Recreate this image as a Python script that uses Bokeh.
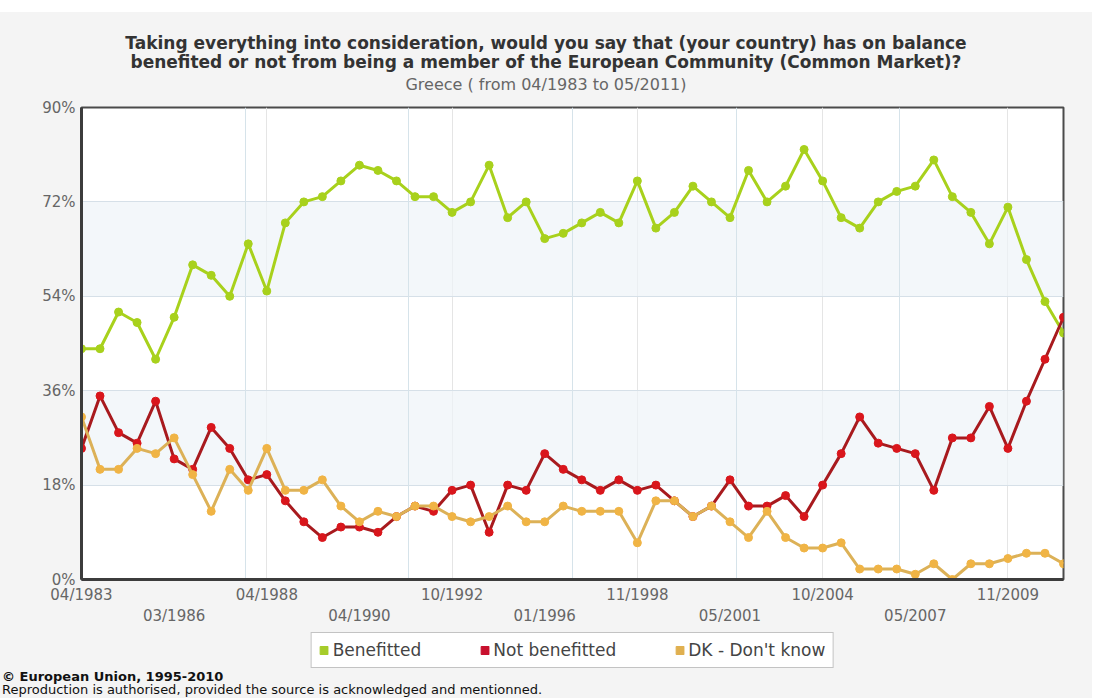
from bokeh.plotting import figure
from bokeh.layouts import column
from bokeh.models import (Range1d, FixedTicker, LinearAxis, Legend,
                          LegendItem, Grid, Spacer, Div)
from bokeh.embed import file_html
from bokeh.resources import INLINE

# ---------------- data ----------------
benefitted = [44, 44, 51, 49, 42, 50, 60, 58, 54, 64, 55, 68, 72, 73, 76, 79, 78, 76,
              73, 73, 70, 72, 79, 69, 72, 65, 66, 68, 70, 68, 76, 67, 70, 75, 72, 69,
              78, 72, 75, 82, 76, 69, 67, 72, 74, 75, 80, 73, 70, 64, 71, 61, 53, 47]
not_benefitted = [25, 35, 28, 26, 34, 23, 21, 29, 25, 19, 20, 15, 11, 8, 10, 10, 9, 12,
                  14, 13, 17, 18, 9, 18, 17, 24, 21, 19, 17, 19, 17, 18, 15, 12, 14, 19,
                  14, 14, 16, 12, 18, 24, 31, 26, 25, 24, 17, 27, 27, 33, 25, 34, 42, 50]
dont_know = [31, 21, 21, 25, 24, 27, 20, 13, 21, 17, 25, 17, 17, 19, 14, 11, 13, 12,
             14, 14, 12, 11, 12, 14, 11, 11, 14, 13, 13, 13, 7, 15, 15, 12, 14, 11,
             8, 13, 8, 6, 6, 7, 2, 2, 2, 1, 3, 0, 3, 3, 4, 5, 5, 3]
tick_labels = ["04/1983", "03/1986", "04/1988", "04/1990", "10/1992", "01/1996",
               "11/1998", "05/2001", "10/2004", "05/2007", "11/2009"]
y_ticks = [0, 18, 36, 54, 72, 90]
series_names = ["Benefitted", "Not benefitted", "DK - Don't know"]
title_lines = ["Taking everything into consideration, would you say that (your country) has on balance",
               "benefited or not from being a member of the European Community (Common Market)?"]
subtitle = "Greece ( from 04/1983 to 05/2011)"

# ---------------- styles ----------------
GREEN = "#a8d11c"
RED_M = "#d9161c"
RED_L = "#a81a1e"
GOLD_M = "#f0b445"
GOLD_L = "#dcb157"
FONT = "DejaVu Sans"
PANEL = "#f4f4f4"
W = 1092

n = len(benefitted)
xs = list(range(n))
tick_pos = list(range(0, n, 5))[:len(tick_labels)]
overrides = {pos: lab for pos, lab in zip(tick_pos, tick_labels)}

# ---------------- header ----------------
header = Div(text=(f"<div style='font-weight:bold;font-size:17px;line-height:19px;color:#333333'>"
                   f"{title_lines[0]}<br>{title_lines[1]}</div>"
                   f"<div style='font-size:16px;line-height:16px;color:#666666;margin-top:5px'>"
                   f"{subtitle}</div>"),
             width=W, height=85, margin=0,
             styles={"background-color": PANEL, "font-family": FONT,
                     "text-align": "center", "padding-top": "22px",
                     "box-sizing": "border-box", "overflow": "hidden"})

p = figure(width=W, height=532, output_backend="svg", toolbar_location=None,
           title=None, x_range=Range1d(0, n - 1), y_range=Range1d(0, 90),
           x_axis_location=None,
           min_border_left=81, min_border_right=29, min_border_top=10,
           min_border_bottom=50,
           background_fill_color="white", border_fill_color=PANEL,
           outline_line_color="#4a4a4a", outline_line_width=2)

# y axis
p.yaxis.ticker = FixedTicker(ticks=y_ticks)
p.yaxis.major_label_overrides = {t: f"{t}%" for t in y_ticks}
p.yaxis.axis_line_color = "#3c3c3c"
p.yaxis.axis_line_width = 3
p.yaxis.major_tick_line_color = None
p.yaxis.minor_tick_line_color = None
p.yaxis.major_tick_out = 0
p.yaxis.major_tick_in = 0
p.yaxis.minor_tick_out = 0
p.yaxis.major_label_text_font = FONT
p.yaxis.major_label_text_font_size = "15px"
p.yaxis.major_label_text_color = "#666666"
p.yaxis.major_label_standoff = 6

# horizontal grid with bands
p.ygrid.ticker = FixedTicker(ticks=y_ticks)
p.ygrid.grid_line_color = "#d6e0e8"
p.ygrid.band_fill_color = "#eef3f8"
p.ygrid.band_fill_alpha = 0.7

# vertical grid at sixths of the span
vgrid = Grid(dimension=0, ticker=FixedTicker(ticks=[(n - 1) * k / 6 for k in range(1, 6)]),
             grid_line_color="#d6e3ea", grid_line_width=1)
p.add_layout(vgrid)

# two rows of x labels
ax1 = LinearAxis(ticker=FixedTicker(ticks=tick_pos[0::2]),
                 major_label_overrides=overrides)
ax2 = LinearAxis(ticker=FixedTicker(ticks=tick_pos[1::2]),
                 major_label_overrides=overrides)
for ax in (ax1, ax2):
    ax.major_tick_line_color = None
    ax.minor_tick_line_color = None
    ax.major_tick_out = 0
    ax.major_tick_in = 0
    ax.minor_tick_out = 0
    ax.major_label_text_font = FONT
    ax.major_label_text_font_size = "15px"
    ax.major_label_text_color = "#666666"
ax1.axis_line_color = "#3c3c3c"
ax1.axis_line_width = 3
ax1.major_label_standoff = 6
ax2.axis_line_color = None
ax2.major_label_standoff = 0
p.add_layout(ax1, "below")
p.add_layout(ax2, "below")

# series
p.line(xs, benefitted, line_color=GREEN, line_width=3)
p.scatter(xs, benefitted, size=8, fill_color=GREEN, line_color=GREEN)
p.line(xs, not_benefitted, line_color=RED_L, line_width=3)
p.scatter(xs, not_benefitted, size=8, fill_color=RED_M, line_color=RED_M)
p.line(xs, dont_know, line_color=GOLD_L, line_width=3)
p.scatter(xs, dont_know, size=8, fill_color=GOLD_M, line_color=GOLD_M)

# ---------------- bottom strip: legend ----------------
p2 = figure(width=W, height=40, output_backend="svg", toolbar_location=None,
            title=None, x_range=Range1d(0, 1), y_range=Range1d(0, 1),
            x_axis_location=None, y_axis_location=None, min_border=0,
            background_fill_color=PANEL, border_fill_color=PANEL,
            outline_line_color=None)
p2.xgrid.visible = False
p2.ygrid.visible = False

legend_colors = ["#a6cc2a", "#c8102e", "#e0b050"]
items = []
for name, col in zip(series_names, legend_colors):
    # swatch renderer kept outside the visible ranges; only its legend entry shows
    r = p2.quad(left=[-3], right=[-2], bottom=[-3], top=[-2],
                fill_color=col, line_color=col)
    items.append(LegendItem(label=name, renderers=[r]))
legend = Legend(items=items, orientation="horizontal", location="top_center",
                glyph_width=10, glyph_height=10, label_text_font=FONT,
                label_text_font_size="17px", label_text_color="#444444",
                label_standoff=4, spacing=58, padding=7, margin=3,
                border_line_color="#888888", border_line_width=1,
                background_fill_color="white", background_fill_alpha=1)
p2.add_layout(legend)

# ---------------- footer ----------------
footer = Div(text="<b>© European Union, 1995-2010</b><br>"
                  "Reproduction is authorised, provided the source is acknowledged and mentionned.",
             width=W, height=29, margin=0,
             styles={"background-color": PANEL, "font-family": FONT,
                     "font-size": "13px", "line-height": "13px", "color": "#111111",
                     "padding-left": "2px", "padding-top": "1px",
                     "box-sizing": "border-box", "overflow": "hidden"})

top_gap = Spacer(width=W, height=12, margin=0, styles={"background-color": "white"})
layout = column(top_gap, header, p, p2, footer, spacing=0,
                styles={"background-color": PANEL})
open("out.html", "w").write(file_html(layout, INLINE))
